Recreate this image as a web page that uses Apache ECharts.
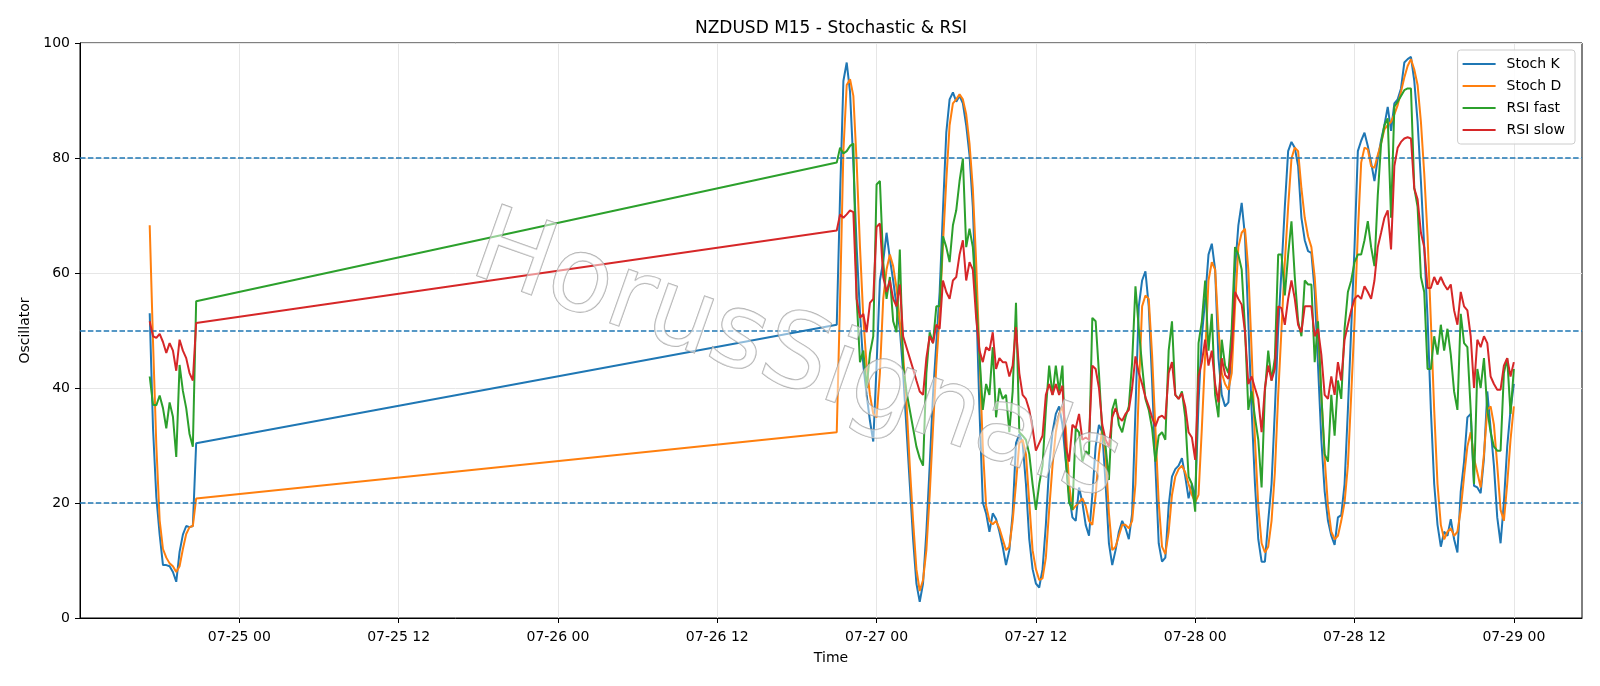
<!DOCTYPE html>
<html>
<head>
<meta charset="utf-8">
<script src="https://cdn.jsdelivr.net/npm/echarts@6/dist/echarts.min.js"></script>
<style>
html, body { margin: 0; padding: 0; background: #fff; }
#chart { width: 1600px; height: 686px; }
</style>
</head>
<body>
<div id="chart"></div>
<script>
// M15 bars: friday close session, then sunday open until 07-29 00:00
var sessions = [
    { start: "2020-07-24T17:15:00Z", bars: 15 },
    { start: "2020-07-26T21:00:00Z", bars: 205 }
];

var stochK = [
    53, 33, 21, 14.5, 9.2, 9.2, 9, 8, 6.3, 11.5, 14.5, 16, 15.8, 16, 30.4,
    51, 73.5, 93.4, 96.6, 91.5, 79, 64.5, 53, 44, 38.8, 34.3, 30.7, 43.9, 58.7, 62, 67, 62.5, 58.7, 54.2, 50.3,
    42.6, 33, 23.3, 13.7, 6, 2.8, 6, 15, 26.5, 38.8, 47.8, 56.7, 70.9, 84.4, 90.2, 91.4,
    89.8, 90.8, 89.5, 85.7, 80.5, 71.5, 55.5, 36.2, 20.1, 18.2, 15, 18.2, 17.2, 15, 12.4, 9.2, 11.8, 18.2, 30.4, 32,
    30.4, 23.3, 13.7, 8.5, 6, 5.3, 8.5, 16.2, 26.5, 32.3, 35.5, 36.8, 33.6, 27.2, 21.4, 17.5, 16.9, 22.7, 20.1, 16.2, 14.3,
    21.4, 29.8, 33.6, 32.3, 23.3, 13, 9.2, 11.8, 15, 16.9, 15.6, 13.7, 18.2, 36.2, 54.2, 58.7, 60.3, 54.2, 41.3, 26.5,
    13, 9.8, 10.5, 19.5, 24.6, 25.9, 26.5, 27.8, 24.6, 20.8, 23.3, 20.8, 37.5, 49, 55.5, 63.2, 65.1, 60.6, 45.2, 38.8,
    36.8, 37.5, 47.8, 60.6, 68.3, 72.2, 66.4, 51.6, 36.2, 23.3, 13.7, 9.8, 9.8, 16.9, 23.3, 36.2, 50.3, 60.6, 71.5, 81.2,
    82.8, 81.8, 78.6, 69.6, 65.7, 63.8, 63.5, 56.8, 43.9, 31, 22, 16.9, 14.3, 12.7, 17.5, 17.9, 23.3, 36.2, 50.3, 64.5, 81.2,
    83, 84.4, 82.1, 79.2, 76, 79.9, 83.1, 85.7, 88.9, 84.7, 89.5, 90.2, 92.1, 96.6, 97.2, 97.6, 93.4, 86.3, 76, 64.5, 52.2,
    36.2, 23.3, 16.2, 12.4, 15, 14.3, 17.2, 13.7, 11.4, 22, 27.2, 34.9, 35.5, 23, 22.7, 21.7, 27.8, 39.4, 33, 26.5,
    17.5, 13, 20.1, 29.8, 36.2, 40.7
];
var stochD = [
    68.3, 48, 30, 17, 12, 10.5, 9.5, 9, 8, 9, 12, 14.6, 15.8, 16, 20.8,
    32.3, 55.5, 81.2, 92.7, 93.7, 90.8, 79.2, 64.5, 52.2, 43.9, 38.8, 35.5, 34.9, 42.6, 55.5, 60.6, 63.2, 61.2, 57.4, 51.6,
    45.8, 37.5, 26.5, 16.9, 8.5, 4.7, 6.6, 11.8, 21.4, 33, 43.9, 52.9, 65.1, 76, 85.7, 89.5,
    90.2, 91.1, 90.2, 87.6, 82.5, 74.7, 61.9, 45.8, 29.8, 19.5, 16.9, 16.3, 16.9, 15.6, 13.7, 11.8, 12.4, 16.9, 23.3, 30.4,
    31, 28.5, 20.1, 11.8, 8.5, 6.6, 6.9, 10.5, 18.8, 26.5, 32.3, 35.5, 36.8, 33, 23.3, 18.8, 19.5, 20.1, 20.8, 19.5, 16.9,
    16.2, 21.4, 28.5, 33, 28.5, 18.2, 11.8, 12.4, 14.3, 16.2, 16.2, 15.6, 16.9, 23.3, 39.4, 54.2, 56.1, 55.5, 45.8, 33,
    20.1, 12.4, 11.1, 15, 21.4, 24.6, 25.9, 26.5, 25.3, 23.3, 21.4, 20.1, 21.4, 33, 45.8, 58.7, 61.9, 60.6, 50.3, 42.6,
    40.7, 39.7, 42.6, 54.2, 64.5, 67, 67.7, 60.6, 46.5, 31, 19.5, 13, 11.4, 12.4, 16.9, 25.3, 38.8, 50.3, 61.9, 71.5,
    79.9, 81.8, 81.2, 74.7, 69.6, 66.4, 64.5, 59.3, 50.3, 38.8, 27.8, 19.5, 15, 13.7, 14.3, 16.9, 20.1, 26.5, 38.8, 51.6, 67,
    79.2, 81.8, 81.5, 78.6, 78.3, 80.5, 82.5, 85, 85.7, 86.3, 87.6, 89.2, 91.5, 94, 96, 97.2, 95.4, 92.7, 86.3, 77.3, 66.4,
    51.6, 36.2, 23.3, 16.2, 13.7, 15, 15.6, 14.3, 15, 18.8, 24.6, 29.8, 32.3, 27.8, 25.3, 22.7, 28.5, 36.2, 36.8, 33.6,
    26.5, 18.8, 16.9, 23.3, 31, 36.8
];
var rsiFast = [
    42, 37.1, 37, 38.7, 36.5, 33, 37.5, 35, 28, 44, 39.5, 36.5, 32, 29.8, 55.1,
    79.2, 81.8, 80.8, 81.2, 82.1, 82.5, 55.5, 44.5, 46.5, 40, 46, 49, 75.4, 76, 61.9, 55.5, 59.3, 51.6, 49.7, 64.1,
    43.9, 39.4, 36.2, 33, 29.8, 27.8, 26.5, 42.6, 49.7, 47.8, 54.2, 54.2, 66.4, 64.5, 61.9, 68.3,
    70.9, 76, 79.9, 64.5, 67.7, 64.5, 55.5, 45.8, 36.2, 40.7, 38.8, 47.1, 34.9, 40, 38.1, 38.8, 32.3, 39.4, 54.8, 32.3,
    31.7, 31, 28.5, 23.3, 18.8, 23.3, 26.5, 36.2, 43.9, 38.8, 43.9, 39.4, 43.9, 27.8, 20.1, 18.8, 33, 32.3, 27.2, 29, 28.5,
    52.2, 51.6, 42.6, 32.3, 29.8, 24, 36.2, 38.1, 33.6, 32.3, 34.9, 36.8, 44.5, 57.7, 50.3, 43.9, 38.1, 36.2, 33, 27.2,
    31.7, 32.3, 31, 46.5, 51.6, 38.8, 38.1, 39.4, 34.9, 24.6, 23.3, 18.5, 47.8, 51.6, 58.7, 46.5, 52.9, 38.8, 34.9, 48.4,
    43.9, 42.6, 50.3, 64.5, 63.2, 60.6, 50.3, 36.2, 39.4, 34.9, 31, 22.7, 39.4, 46.5, 41.3, 45.2, 63.2, 63.2, 56.1, 63.2,
    69, 59.3, 51.6, 49, 58.7, 58, 58, 44.5, 51.6, 38.8, 28.5, 27.2, 38.8, 31.7, 41.3, 38.1, 50.3, 56.7, 58.7, 61.9, 63.2,
    63.2, 65.7, 69, 64.5, 61.2, 73.5, 82.5, 85.7, 86.9, 69.6, 88.9, 89.8, 90.8, 91.8, 92.1, 92.1, 74.8, 71.5, 59.3, 56.7, 43.3,
    43.3, 49, 45.8, 51, 46.5, 50.3, 45.8, 39.4, 36.2, 52.9, 47.8, 47.1, 36.2, 23.3, 43.3, 40, 45.2, 36.2, 32.3, 29.8,
    29.1, 29.1, 42.6, 45.2, 35.5, 43.3
];
var rsiSlow = [
    51.6, 49, 48.7, 49.4, 48, 46.1, 47.8, 46.5, 43, 48.4, 46.5, 45.2, 42.6, 41.3, 51.3,
    67.4, 70.2, 69.6, 70.2, 70.9, 70.6, 55.5, 52.2, 52.9, 49.7, 54.8, 55.5, 68, 68.6, 59.3, 56.7, 58.7, 55.5, 54.2, 58,
    49, 47.1, 45.2, 43.3, 41.3, 39.4, 38.8, 45.2, 49, 47.8, 51, 50.3, 58.7, 56.7, 55.5, 58.7,
    59.3, 63.2, 65.7, 58.7, 61.9, 60.6, 52.2, 46.5, 44.5, 47.1, 46.5, 49.7, 43.3, 45.2, 44.5, 44.5, 42, 43.9, 50.6, 42.6,
    38.8, 38.1, 36.2, 33, 29.1, 30.4, 31.7, 38.8, 40.7, 38.8, 40.7, 38.8, 40.4, 29.8, 27.2, 33.6, 33, 35.5, 31, 31.4, 31,
    43.9, 43.3, 40, 33.6, 31, 29.8, 34.9, 36.5, 34.9, 34.3, 35.5, 36.2, 40, 45.5, 42.6, 40.7, 38.4, 36.8, 34.9, 33.3,
    34.9, 35.2, 34.6, 42.6, 44.5, 38.8, 38.1, 39.1, 36.8, 32.3, 31.4, 27.5, 42, 44.5, 48.4, 43.9, 46.5, 40.7, 37.5, 45.2,
    42.3, 41.6, 46.5, 56.7, 55.5, 54.5, 49.7, 40.7, 42, 40, 38.1, 32.3, 40, 43.9, 41.3, 43.3, 54.2, 53.9, 51, 55.5,
    58.7, 55.5, 51, 49.7, 54.2, 54.2, 54.2, 49, 50.3, 45.8, 38.8, 38.1, 42, 38.8, 44.5, 41.3, 48.4, 51, 53.5, 55.5, 56.1,
    55.5, 57.7, 56.7, 55.5, 58.7, 64.5, 67, 69.6, 70.9, 64.1, 78.6, 81.8, 82.8, 83.4, 83.6, 83.4, 74.7, 72.8, 67, 64.5, 57.4,
    57.4, 59.3, 58, 59.3, 58, 57.1, 58, 53.5, 51, 56.7, 54.2, 53.5, 49, 40, 48.4, 47.1, 49, 47.8, 42, 40.7,
    39.7, 39.7, 43.9, 45.2, 42, 44.5
];

var seriesNames = ["Stoch K", "Stoch D", "RSI fast", "RSI slow"];
var levels = [20, 50, 80];
var xTickTimes = [
    "2020-07-25T00:00:00Z", "2020-07-25T12:00:00Z", "2020-07-26T00:00:00Z",
    "2020-07-26T12:00:00Z", "2020-07-27T00:00:00Z", "2020-07-27T12:00:00Z",
    "2020-07-28T00:00:00Z", "2020-07-28T12:00:00Z", "2020-07-29T00:00:00Z"
];

var HOUR = 3600 * 1000;
var times = [];
sessions.forEach(function (s) {
    var t0 = Date.parse(s.start);
    for (var i = 0; i < s.bars; i++) {
        times.push(t0 + i * 15 * 60 * 1000);
    }
});
var xTicks = xTickTimes.map(function (s) { return Date.parse(s); });
var xMin = Date.parse("2020-07-24T12:00:00Z");
var xMax = Date.parse("2020-07-29T05:08:00Z");

function pad(n) {
    return (n < 10 ? "0" : "") + n;
}
function fmtTime(v) {
    if (xTicks.indexOf(v) < 0) return "";
    var d = new Date(v);
    return pad(d.getUTCMonth() + 1) + "-" + pad(d.getUTCDate()) + " " + pad(d.getUTCHours());
}
function pairs(arr) {
    return arr.map(function (v, i) { return [times[i], v]; });
}

var colors = ["#1f77b4", "#ff7f0e", "#2ca02c", "#d62728"];
var font = "DejaVu Sans";

var myChart = echarts.init(document.getElementById("chart"), null, { renderer: "canvas" });
var lineData = [stochK, stochD, rsiFast, rsiSlow];

var series = lineData.map(function (arr, k) {
    return {
        name: seriesNames[k],
        type: "line",
        data: pairs(arr),
        symbol: "none",
        showSymbol: false,
        lineStyle: { width: 2, color: colors[k] },
        itemStyle: { color: colors[k] },
        emphasis: { disabled: true },
        z: 3 + k
    };
});
// dashed levels 20 / 50 / 80
series[0].markLine = {
    silent: true,
    symbol: ["none", "none"],
    label: { show: false },
    lineStyle: { color: "#1f77b4", type: [5.5, 2.4], width: 1.5, opacity: 1 },
    data: levels.map(function (v) { return { yAxis: v }; })
};

var option = {
    animation: false,
    color: colors,
    textStyle: { fontFamily: font },
    grid: {
        left: 80, right: 18, top: 43, bottom: 68,
        show: true, borderColor: "#000", borderWidth: 1, backgroundColor: "transparent"
    },
    legend: {
        data: seriesNames,
        orient: "vertical",
        right: 25,
        top: 50,
        icon: "rect",
        itemWidth: 33,
        itemHeight: 2,
        itemGap: 8,
        padding: [7, 10, 7, 5],
        backgroundColor: "rgba(255,255,255,0.85)",
        borderColor: "#cccccc",
        borderWidth: 1,
        borderRadius: 3,
        textStyle: { fontSize: 14, lineHeight: 14, color: "#000", fontFamily: font, padding: [0, 0, 0, 6] }
    },
    xAxis: {
        type: "value",
        min: xMin,
        max: xMax,
        interval: 12 * HOUR,
        name: "Time",
        nameLocation: "middle",
        nameGap: 33,
        nameTextStyle: { fontSize: 14, color: "#000", fontFamily: font },
        axisLine: { show: true, onZero: false, lineStyle: { color: "#000", width: 1 } },
        axisTick: { show: true, length: 5, customValues: xTicks, lineStyle: { color: "#000" } },
        axisLabel: {
            customValues: xTicks,
            formatter: fmtTime,
            margin: 12,
            fontSize: 14,
            lineHeight: 14,
            color: "#000",
            fontFamily: font
        },
        splitLine: { show: true, lineStyle: { color: "#e6e6e6", width: 1 } }
    },
    yAxis: {
        type: "value",
        min: 0,
        max: 100,
        interval: 20,
        name: "Oscillator",
        nameLocation: "middle",
        nameGap: 46,
        nameTextStyle: { fontSize: 14, color: "#000", fontFamily: font },
        axisLine: { show: true, lineStyle: { color: "#000", width: 1 } },
        axisTick: { show: true, length: 5, lineStyle: { color: "#000" } },
        axisLabel: { margin: 10, fontSize: 14, color: "#000", fontFamily: font },
        splitLine: { show: true, lineStyle: { color: "#e6e6e6", width: 1 } }
    },
    graphic: [
        {
            type: "text",
            x: 831,
            y: 29,
            z: 10,
            style: {
                text: "NZDUSD M15 - Stochastic & RSI",
                fontSize: 17,
                fontFamily: font,
                fill: "#000",
                textAlign: "center",
                textVerticalAlign: "middle"
            }
        },
        {
            // watermark
            type: "text",
            x: 796,
            y: 360,
            rotation: -0.34,
            z: 20,
            silent: true,
            style: {
                text: "HorusSignals",
                fontSize: 104,
                fontFamily: font,
                fill: "rgba(255,255,255,0.5)",
                stroke: "rgba(150,150,150,0.8)",
                lineWidth: 1.3,
                shadowColor: "rgba(0,0,0,0.35)",
                shadowBlur: 2,
                shadowOffsetX: 3,
                shadowOffsetY: 4,
                textAlign: "center",
                textVerticalAlign: "middle"
            }
        }
    ],
    series: series
};

myChart.setOption(option);
</script>
</body>
</html>
